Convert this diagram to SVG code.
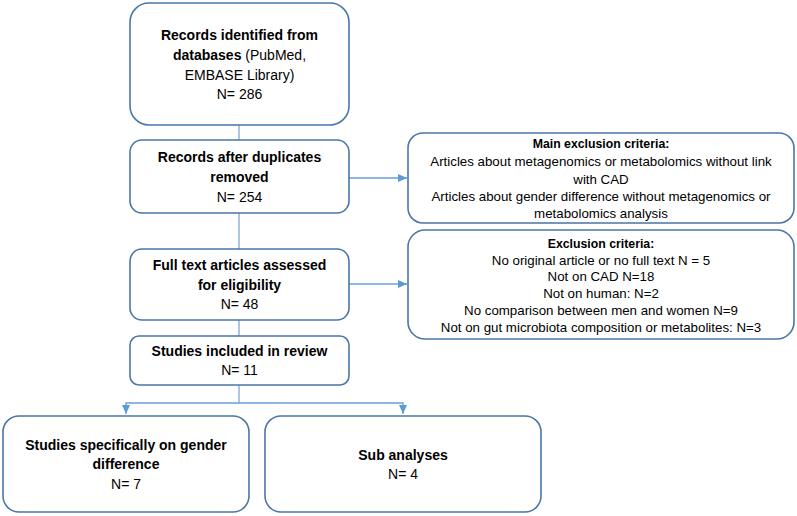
<svg xmlns="http://www.w3.org/2000/svg" width="797" height="516" viewBox="0 0 797 516">
<defs>
<marker id="arr" markerWidth="10" markerHeight="10" refX="9" refY="5" orient="auto" markerUnits="userSpaceOnUse">
<path d="M0,1 L9,5 L0,9 Z" fill="#5B9BD5"/>
</marker>
</defs>
<style>
.box{fill:#fff;stroke:#4A76A8;stroke-width:1.6}
.con{fill:none;stroke:#7FA8D6;stroke-width:1.3}
.arr{fill:none;stroke:#6A9FD8;stroke-width:1.3;marker-end:url(#arr)}
text{font-family:"Liberation Sans",Arial,sans-serif;fill:#000;text-anchor:middle}
.l{font-size:14px}
.b{font-weight:bold}
.s{font-size:13.3px}
.h{font-size:12.3px;font-weight:bold}
</style>
<rect width="797" height="516" fill="#fff"/>
<g id="connectors">
<line class="con" x1="239" y1="125" x2="239" y2="140"/>
<line class="con" x1="239" y1="213" x2="239" y2="249"/>
<line class="con" x1="239" y1="320" x2="239" y2="336"/>
<path class="con" d="M239,385 V403"/>
<path class="arr" d="M239,403 H126 V414"/>
<path class="arr" d="M239,403 H403 V414"/>
<line class="arr" x1="349" y1="178" x2="407" y2="178"/>
<line class="arr" x1="349" y1="284" x2="407" y2="284"/>
</g>
<g id="n1">
<rect class="box" x="130" y="3" width="219" height="122" rx="19"/>
<text class="l" x="239.5" y="40"><tspan class="b">Records identified from</tspan></text>
<text class="l" x="239.5" y="60"><tspan class="b">databases</tspan> (PubMed,</text>
<text class="l" x="239.5" y="80">EMBASE Library)</text>
<text class="l" x="239.5" y="99">N= 286</text>
</g>
<g id="n2">
<rect class="box" x="130" y="140" width="219" height="73" rx="12"/>
<text class="l b" x="239.5" y="162">Records after duplicates</text>
<text class="l b" x="239.5" y="182">removed</text>
<text class="l" x="239.5" y="202">N= 254</text>
</g>
<g id="n3">
<rect class="box" x="130" y="249" width="219" height="71" rx="12"/>
<text class="l b" x="239.5" y="270">Full text articles assessed</text>
<text class="l b" x="239.5" y="290">for eligibility</text>
<text class="l" x="239.5" y="309">N= 48</text>
</g>
<g id="n4">
<rect class="box" x="130" y="336" width="219" height="49" rx="9"/>
<text class="l b" x="239.5" y="356">Studies included in review</text>
<text class="l" x="239.5" y="375">N= 11</text>
</g>
<g id="n5">
<rect class="box" x="3" y="416" width="246" height="96" rx="16"/>
<text class="l b" x="126" y="450">Studies specifically on gender</text>
<text class="l b" x="126" y="469">difference</text>
<text class="l" x="126" y="489">N= 7</text>
</g>
<g id="n6">
<rect class="box" x="265" y="416" width="276" height="96" rx="16"/>
<text class="l b" x="403" y="460">Sub analyses</text>
<text class="l" x="403" y="479">N= 4</text>
</g>
<g id="n7">
<rect class="box" x="408" y="133" width="386" height="90" rx="15"/>
<text class="h" x="601" y="148">Main exclusion criteria:</text>
<text class="s" x="601" y="166">Articles about metagenomics or metabolomics without link</text>
<text class="s" x="601" y="184">with CAD</text>
<text class="s" x="601" y="201">Articles about gender difference without metagenomics or</text>
<text class="s" x="601" y="218">metabolomics analysis</text>
</g>
<g id="n8">
<rect class="box" x="408" y="230" width="386" height="109" rx="17"/>
<text class="h" x="601" y="248">Exclusion criteria:</text>
<text class="s" x="601" y="265">No original article or no full text N = 5</text>
<text class="s" x="601" y="281">Not on CAD N=18</text>
<text class="s" x="601" y="298">Not on human: N=2</text>
<text class="s" x="601" y="315">No comparison between men and women N=9</text>
<text class="s" x="601" y="332">Not on gut microbiota composition or metabolites: N=3</text>
</g>
</svg>
